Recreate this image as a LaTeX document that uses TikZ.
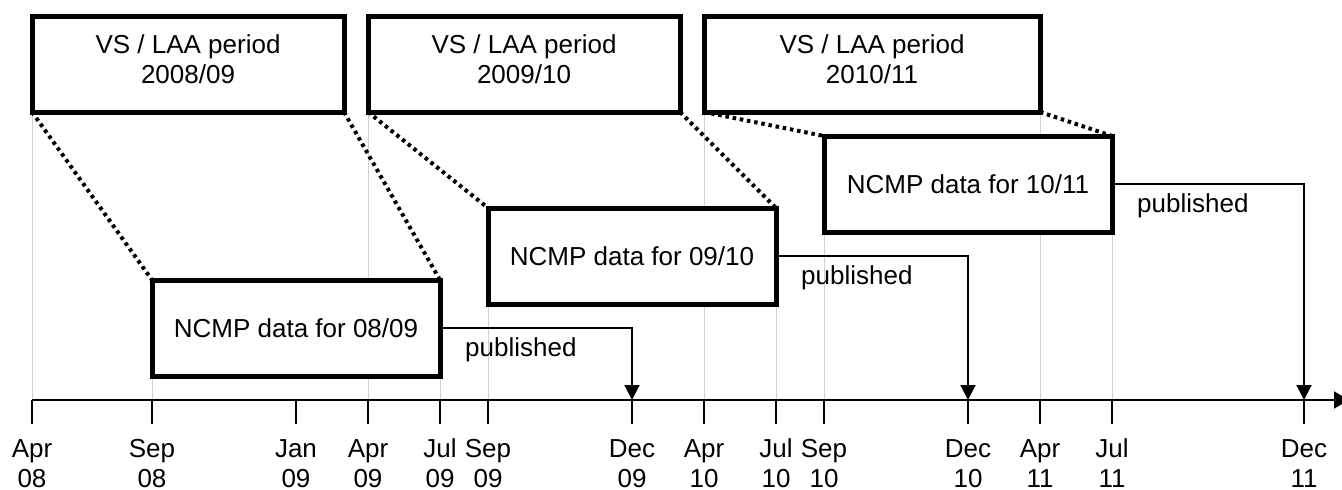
\documentclass[tikz,border=0pt]{standalone}
\usepackage{fontspec}
\setmainfont{Liberation Sans}
\usetikzlibrary{arrows.meta}
\definecolor{gridgrey}{gray}{0.82}

\begin{document}
\begin{tikzpicture}[x=1pt,y=-1pt,
  font=\fontsize{26}{30}\selectfont,
  thickbox/.style={draw, line width=5pt, line join=miter, fill=white,
    inner sep=0pt, outer sep=0pt, minimum height=96pt},
  periodbox/.style={thickbox, minimum width=312pt},
  databox/.style={thickbox, minimum width=288pt},
  boxtext/.style={anchor=north, align=center, inner sep=0pt},
  zoomline/.style={line width=4pt, dash pattern=on 3.5pt off 3.8pt},
  guide/.style={gridgrey, line width=1pt},
  axisline/.style={line width=2pt},
  tickmark/.style={line width=2pt},
  monthlabel/.style={anchor=base, inner sep=0pt},
  publine/.style={line width=2pt, -{Triangle[width=15pt,length=15pt]}},
  publabel/.style={anchor=north west, inner sep=0pt}]

\useasboundingbox (0,0) rectangle (1342,490);
\clip (0,0) rectangle (1342,490);

% tick positions on the time axis
\coordinate (apr08) at (32,400);
\coordinate (sep08) at (152,400);
\coordinate (jan09) at (296,400);
\coordinate (apr09) at (368,400);
\coordinate (jul09) at (440,400);
\coordinate (sep09) at (488,400);
\coordinate (dec09) at (632,400);
\coordinate (apr10) at (704,400);
\coordinate (jul10) at (776,400);
\coordinate (sep10) at (824,400);
\coordinate (dec10) at (968,400);
\coordinate (apr11) at (1040,400);
\coordinate (jul11) at (1112,400);
\coordinate (dec11) at (1304,400);
\coordinate (axisend) at (1349,400);

% collection periods (top row)
\node[periodbox] (vs1) at (188,64) {};
\node[periodbox] (vs2) at (524,64) {};
\node[periodbox, minimum width=336pt] (vs3) at (872,64) {};

% data boxes
\node[databox] (d1) at (296,328) {};
\node[databox] (d2) at (632,256) {};
\node[databox] (d3) at (968,184) {};

% light guides from box edges down to the axis
\draw[guide] (vs1.south west) -- (apr08);
\draw[guide] (vs2.south west) -- (apr09);
\draw[guide] (vs3.south west) -- (apr10);
\draw[guide] (apr11 |- vs3.south) -- (apr11);
\draw[guide] (d1.south west) -- (sep08);
\draw[guide] (d1.south east) -- (jul09);
\draw[guide] (d2.south west) -- (sep09);
\draw[guide] (d2.south east) -- (jul10);
\draw[guide] (d3.south west) -- (sep10);
\draw[guide] (d3.south east) -- (jul11);

% redraw boxes on top of the guides
\node[periodbox] at (vs1) {};
\node[periodbox] at (vs2) {};
\node[periodbox, minimum width=336pt] at (vs3) {};
\node[databox] at (d1) {NCMP data for 08/09};
\node[databox] at (d2) {NCMP data for 09/10};
\node[databox] at (d3) {NCMP data for 10/11};

\node[boxtext] (vs1t) at (188,34.5) {VS / LAA period\\2008/09};
\node[boxtext] (vs2t) at (524,34.5) {VS / LAA period\\2009/10};
\node[boxtext] (vs3t) at (872,34.5) {VS / LAA period\\2010/11};

% dotted zoom lines from each period to its data box
\draw[zoomline] (vs1.south west) -- (d1.north west);
\draw[zoomline] (vs1.south east) -- (d1.north east);
\draw[zoomline] (vs2.south west) -- (d2.north west);
\draw[zoomline] (vs2.south east) -- (d2.north east);
\draw[zoomline] (vs3.south west) -- (d3.north west);
\draw[zoomline] (vs3.south east) -- (d3.north east);

% time axis with month and year under each tick
\draw[axisline, -{Triangle[width=17pt,length=15pt]}] (apr08) -- (axisend);
\foreach \t/\m/\y in {apr08/Apr/08, sep08/Sep/08, jan09/Jan/09, apr09/Apr/09,
    jul09/Jul/09, sep09/Sep/09, dec09/Dec/09, apr10/Apr/10, jul10/Jul/10,
    sep10/Sep/10, dec10/Dec/10, apr11/Apr/11, jul11/Jul/11, dec11/Dec/11}{
  \draw[tickmark] (\t) -- ++(0,24);
  \node[monthlabel] (mon-\t) at ([yshift=-57.5pt]\t) {\m};
  \node[monthlabel] (yr-\t) at ([yshift=-87pt]\t) {\y};
}

% publication arrows
\draw[publine] (d1.east) -| (dec09);
\draw[publine] (d2.east) -| (dec10);
\draw[publine] (d3.east) -| (dec11);
\node[publabel] (p1) at ([shift={(25,9)}]d1.east) {published};
\node[publabel] (p2) at ([shift={(25,9)}]d2.east) {published};
\node[publabel] (p3) at ([shift={(25,9)}]d3.east) {published};

\end{tikzpicture}
\end{document}
